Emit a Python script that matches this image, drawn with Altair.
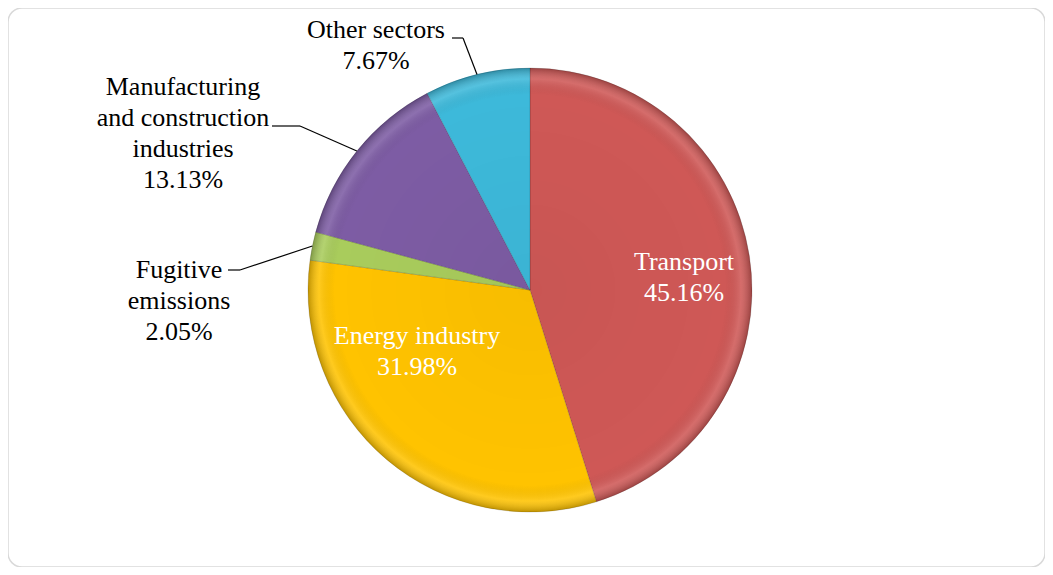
import altair as alt
import pandas as pd

# ---- data ----
categories = ["Transport", "Energy industry", "Fugitive emissions",
              "Manufacturing and construction industries", "Other sectors"]
shares = [45.16, 31.98, 2.05, 13.13, 7.67]
label_lines = [["Transport", "45.16%"],
               ["Energy industry", "31.98%"],
               ["Fugitive", "emissions", "2.05%"],
               ["Manufacturing", "and construction", "industries", "13.13%"],
               ["Other sectors", "7.67%"]]

# ---- styling / layout (presentation only) ----
colors = ["#CF5856", "#FFC300", "#A9CC5C", "#7D5CA4", "#3DB9DA"]
label_colors = ["white", "white", "black", "black", "black"]
CX, CY, R = 522, 282, 222
label_pos = {  # first-line centres of text blocks and leader elbows/ends (pixels)
    "Transport": dict(tx=676, ty=254),
    "Energy industry": dict(tx=409, ty=328),
    "Fugitive emissions": dict(tx=171, ty=262, bx=232, by=262, lx=220),
    "Manufacturing and construction industries": dict(tx=175, ty=79, bx=292, by=118, lx=264),
    "Other sectors": dict(tx=368, ty=22, bx=455, by=30, lx=444),
}

df = pd.DataFrame({
    "cat": categories,
    "share": shares,
    "idx": list(range(len(categories))),
    "text": label_lines,
    "tcolor": label_colors,
})
for k in ["tx", "ty", "bx", "by", "lx"]:
    df[k] = [label_pos[c].get(k) for c in categories]

base = alt.Chart(df)

pie = base.mark_arc(outerRadius=R, stroke="#00000030", strokeWidth=0.8).encode(
    theta=alt.Theta("share:Q", stack=True),
    order=alt.Order("idx:O"),
    color=alt.Color("cat:N", scale=alt.Scale(domain=categories, range=colors), legend=None),
    x=alt.value(CX), y=alt.value(CY),
)

shade = alt.Chart(pd.DataFrame({"a": [0]})).mark_arc(
    theta=0, theta2=6.2832, outerRadius=R,
    fill={"gradient": "radial", "x1": 0.5, "y1": 0.5, "r1": 0, "x2": 0.5, "y2": 0.5, "r2": 0.5,
          "stops": [{"offset": 0, "color": "rgba(0,0,0,0.03)"},
                    {"offset": 0.88, "color": "rgba(0,0,0,0)"},
                    {"offset": 0.95, "color": "rgba(255,255,255,0.12)"},
                    {"offset": 1, "color": "rgba(0,0,0,0.25)"}]},
).encode(x=alt.value(CX), y=alt.value(CY))

geo = base.transform_window(
    cum="sum(share)", sort=[alt.SortField("idx")], frame=[None, 0]
).transform_joinaggregate(total="sum(share)").transform_calculate(
    mid="(datum.cum - datum.share/2)/datum.total*2*PI",
).transform_calculate(
    ex=f"{CX} + {R}*sin(datum.mid)", ey=f"{CY} - {R}*cos(datum.mid)"
)

leader1 = geo.transform_filter("isValid(datum.bx)").mark_rule(color="black", strokeWidth=1.2).encode(
    x=alt.X("ex:Q", scale=None), y=alt.Y("ey:Q", scale=None),
    x2="bx:Q", y2="by:Q",
)
leader2 = geo.transform_filter("isValid(datum.bx)").mark_rule(color="black", strokeWidth=1.2).encode(
    x=alt.X("bx:Q", scale=None), y=alt.Y("by:Q", scale=None),
    x2="lx:Q", y2="by:Q",
)

labels = base.mark_text(font="Liberation Serif", fontSize=26, lineHeight=31,
                        align="center", baseline="middle").encode(
    x=alt.X("tx:Q", scale=None), y=alt.Y("ty:Q", scale=None),
    text="text", color=alt.Color("tcolor:N", scale=None),
)

chart = alt.layer(pie, shade, leader1, leader2, labels).properties(
    width=1037, height=559, padding=0,
    autosize=alt.AutoSizeParams(type="fit", contains="padding"),
).configure_view(stroke="#D9D9D9", strokeWidth=1.5, cornerRadius=14)

chart.save("out.html", embed_options={"renderer": "svg", "actions": False})
